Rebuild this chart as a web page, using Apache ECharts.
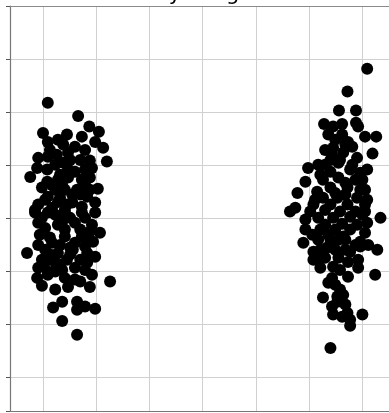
<!DOCTYPE html>
<html>
<head>
<meta charset="utf-8">
<script src="https://cdn.jsdelivr.net/npm/echarts@6/dist/echarts.min.js"></script>
<style>
html,body{margin:0;padding:0;background:#fff;overflow:hidden;}
#chart{width:389px;height:413px;}
</style>
</head>
<body>
<div id="chart"></div>
<script>
// Title (only its lower edge is visible in the cropped reference)
const titleText = 'Daily Weight';

// Group A (left cluster): x (jittered position), y values
const groupAX = [0.09,0.66,0.87,1.05,0.00,0.09,0.45,0.73,0.98,1.13,0.28,0.38,0.60,0.09,0.26,0.47,-0.09,-0.11,0.70,0.88,
  1.20,0.79,0.47,-0.24,0.08,0.47,0.73,-0.02,0.23,0.41,0.64,1.03,0.83,0.09,-0.09,0.28,0.55,0.73,0.98,0.17,
  0.41,-0.15,-0.15,0.09,0.41,0.73,0.98,-0.09,0.28,0.60,0.92,1.07,-0.06,0.17,0.41,0.73,0.94,-0.09,-0.30,0.28,
  0.56,0.83,0.98,-0.02,0.23,0.45,0.83,-0.09,0.09,0.36,-0.11,0.09,0.41,0.70,0.88,1.26,-0.02,0.23,0.47,0.19,
  0.36,0.64,0.64,0.79,0.98,0.36,0.64,0.23,0.51,0.79,0.32,0.60,0.88,0.17,0.36,0.55,0.88,0.04,0.32,0.70,
  0.23,0.51,0.79,0.04,0.41,0.70,0.88,0.13,0.32,0.60,0.79,0.51,0.13,0.70,0.32,0.60,0.04,0.79,
  0.13,0.92,0.38,0.08,0.28,0.79,0.45,-0.02,0.36,0.85,0.51,0.23,0.60,0.92,0.04];
const groupAY = [5.18,4.93,4.73,4.63,4.61,4.44,4.58,4.54,4.44,4.33,4.48,4.39,4.35,4.16,4.20,4.24,4.14,3.95,4.10,4.09,
  4.07,3.92,3.92,3.78,3.69,3.77,3.73,3.58,3.54,3.54,3.54,3.56,3.41,3.41,3.26,3.31,3.30,3.22,3.30,3.20,
  3.16,3.16,3.11,3.11,3.11,3.11,3.11,2.92,2.88,2.92,2.88,2.73,2.69,2.54,2.66,2.66,2.56,2.50,2.35,2.35,
  2.41,2.35,2.28,2.22,2.17,2.22,2.17,2.07,2.00,2.03,1.88,1.94,1.88,1.81,1.71,1.81,1.73,1.66,1.71,1.32,
  1.43,1.43,1.28,1.34,1.30,1.07,0.81,4.01,4.10,4.29,3.82,3.88,3.77,3.63,3.63,3.45,3.54,3.35,3.39,3.45,
  3.07,3.01,3.01,2.82,2.79,2.79,2.75,2.64,2.50,2.54,2.47,2.32,2.32,2.22,2.13,2.07,2.18,2.03,
  4.29,3.95,4.05,3.92,3.73,3.63,3.26,3.01,2.94,2.60,2.45,2.00,1.85,1.94,2.41];

// Group B (right cluster)
const groupBX = [6.09,5.72,5.56,5.88,5.28,5.45,5.62,5.88,5.92,5.36,5.62,6.05,6.26,5.73,5.45,5.81,5.64,6.19,5.43,5.90,
  4.98,5.30,5.55,5.81,6.09,5.40,5.96,4.93,5.26,5.55,5.87,4.78,5.15,5.40,5.72,5.96,5.26,5.53,5.90,6.09,
  4.64,4.74,5.08,5.40,5.72,6.05,6.34,4.93,5.17,5.45,5.77,6.09,4.93,5.21,5.49,5.77,6.05,4.89,5.17,5.40,
  5.64,5.96,5.08,5.34,5.77,5.96,6.28,6.11,5.08,5.30,5.55,5.92,5.21,5.45,5.92,5.43,5.73,6.24,5.36,5.58,
  5.26,5.53,5.64,5.43,5.53,5.45,5.72,6.00,5.77,5.62,5.77,5.40,5.49,5.68,5.30,5.58,5.77,5.21,5.68,5.49,
  5.30,5.58,5.87,5.02,5.30,5.62,5.90,5.06,5.36,5.68,5.49,5.21,5.68,5.73,6.05,6.05,6.00,
  5.40,5.17,5.68,5.11,6.00,5.55,5.87,5.17,5.58,5.49,5.68];
const groupBY = [5.82,5.39,5.03,5.03,4.78,4.73,4.78,4.80,4.73,4.58,4.58,4.54,4.54,4.44,4.33,4.35,4.24,4.22,4.20,4.14,
  3.95,4.01,4.05,4.01,3.92,3.88,3.86,3.69,3.73,3.77,3.73,3.48,3.50,3.58,3.58,3.54,3.39,3.39,3.39,3.35,
  3.13,3.20,3.26,3.26,3.26,3.26,3.01,2.98,3.01,3.01,3.03,2.92,2.79,2.79,2.79,2.79,2.73,2.54,2.60,2.60,
  2.66,2.56,2.37,2.45,2.37,2.47,2.41,2.50,2.22,2.26,2.26,2.22,2.07,2.09,2.07,1.88,1.90,1.94,1.79,1.66,
  1.51,1.53,1.56,1.34,1.43,1.19,1.22,1.19,1.09,1.15,0.98,0.56,4.48,4.39,4.29,4.10,3.92,3.82,3.67,3.48,
  3.16,3.13,3.13,3.13,2.88,2.90,2.88,2.69,2.69,2.60,2.41,2.41,2.41,2.18,3.13,3.54,3.73,
  4.10,4.01,3.45,3.35,3.07,2.60,2.50,2.26,2.03,1.75,1.38];

// Axis ranges
const xMin = -0.62, xMax = 6.50;
const yMin = -0.627, yMax = 7;

function zip(xs, ys){ return xs.map((x,i)=>[x, ys[i]]); }

const plainAxis = {
  axisTick: { show: false },
  axisLabel: { show: false },
  splitLine: { show: false }
};

const chart = echarts.init(document.getElementById('chart'), null, {renderer:'canvas'});
chart.setOption({
  animation: false,
  backgroundColor: '#ffffff',
  graphic: [{
    type: 'text',
    left: 128,
    top: -16,
    style: { text: titleText, fontFamily: 'DejaVu Sans', fontSize: 21, fill: '#000' }
  }],
  grid: { left: 10, top: 6, right: 0, bottom: 2, show: false, containLabel: false },
  xAxis: [{
    type: 'value', min: xMin, max: xMax, splitNumber: 7, position: 'bottom',
    axisLine: { show: true, onZero: false, lineStyle: { color: '#777', width: 1.2 } },
    axisTick: { show: false },
    axisLabel: { show: false },
    splitLine: { show: true, showMaxLine: false, lineStyle: { color: '#d0d0d0', width: 1 } }
  }, Object.assign({
    type: 'value', min: xMin, max: xMax, position: 'top',
    axisLine: { show: true, onZero: false, lineStyle: { color: '#8a8a8a', width: 1.2 } }
  }, plainAxis)],
  yAxis: {
    type: 'value', min: yMin, max: yMax, splitNumber: 8,
    axisLine: { show: true, onZero: false, lineStyle: { color: '#777', width: 1.2 } },
    axisTick: { show: true, inside: false, length: 4, lineStyle: { color: '#555' } },
    axisLabel: { show: false },
    splitLine: { show: true, lineStyle: { color: '#d0d0d0', width: 1 } }
  },
  series: [
    { type: 'scatter', data: zip(groupAX, groupAY), symbolSize: 12, itemStyle: { color: '#000', opacity: 1 } },
    { type: 'scatter', data: zip(groupBX, groupBY), symbolSize: 12, itemStyle: { color: '#000', opacity: 1 } }
  ]
});
</script>
</body>
</html>
